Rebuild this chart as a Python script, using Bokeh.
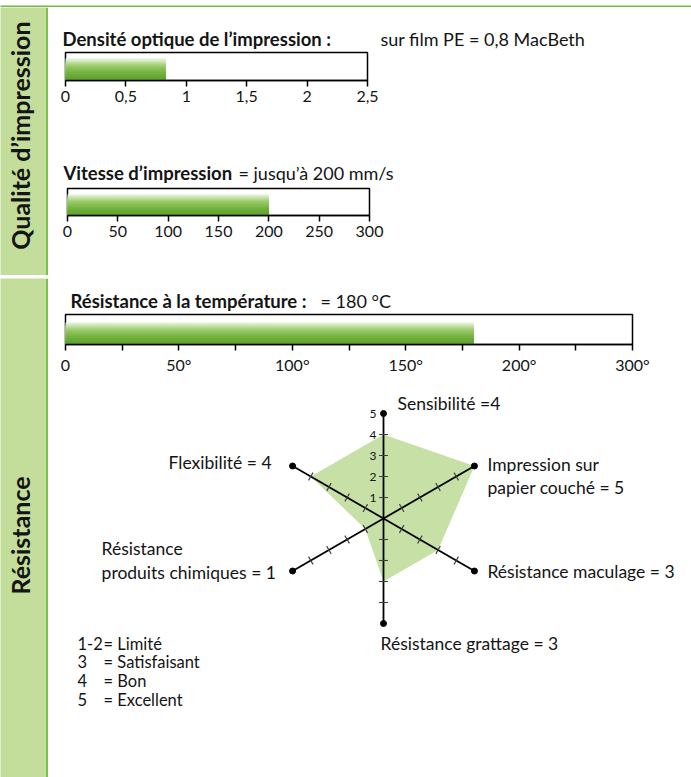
import math
from bokeh.plotting import figure
from bokeh.models import Range1d, FixedTicker
from bokeh.layouts import column, row
from bokeh.embed import file_html
from bokeh.resources import INLINE
from bokeh.core.properties import value

# ---------------- data ----------------
density_title = "Densité optique de l’impression :"
density_note = "sur film PE = 0,8 MacBeth"
density_value = 0.83
density_ticks = [0, 0.5, 1, 1.5, 2, 2.5]
density_tick_labels = ["0", "0,5", "1", "1,5", "2", "2,5"]

speed_title = "Vitesse d’impression"
speed_note = "= jusqu’à 200 mm/s"
speed_value = 200
speed_ticks = [0, 50, 100, 150, 200, 250, 300]
speed_tick_labels = ["0", "50", "100", "150", "200", "250", "300"]

temp_title = "Résistance à la température :"
temp_note = "= 180 °C"
temp_value = 180
temp_ticks = [0, 50, 100, 150, 200, 250]
temp_tick_labels = ["0", "50°", "100°", "150°", "200°", "300°"]
temp_minor_ticks = [25, 75, 125, 175, 225]

radar_labels = ["Sensibilité =4", "Impression sur\npapier couché = 5",
                "Résistance maculage = 3", "Résistance grattage = 3",
                "Résistance\nproduits chimiques = 1", "Flexibilité = 4"]
radar_values = [4, 5, 3, 3, 1, 4]
radar_angles = [90, 30, -30, -90, -150, 150]
radar_max = 5
radar_ticks = [1, 2, 3, 4]
radar_tick_labels = ["1", "2", "3", "4", "5"]

legend_keys = ["1-2", "3", "4", "5"]
legend_texts = ["= Limité", "= Satisfaisant", "= Bon", "= Excellent"]

section_names = ["Qualité d’impression", "Résistance"]

# ---------------- style ----------------
FONT = "Lato"
TXT = "#141414"
GREEN = "#79b744"
BAND = "#c3dd9b"
BAND_LINE = "#7cc04c"
POLY = "#c6e0a6"
W = 691
BW = 48
CW = W - BW
TITLE_SIZE = "18.5px"
NOTE_SIZE = "18px"
COMMON = dict(title=None, output_backend="svg", toolbar_location=None, frame_align=False)


def lerp_color(t):
    stops = [(0.0, (0x5a, 0x9e, 0x2b)), (0.35, (0x74, 0xb3, 0x40)),
             (0.65, (0x9c, 0xcb, 0x6c)), (0.85, (0xcc, 0xe5, 0xb2)),
             (1.0, (0xf4, 0xf9, 0xee))]
    for (t0, c0), (t1, c1) in zip(stops[:-1], stops[1:]):
        if t <= t1:
            f = (t - t0) / (t1 - t0)
            return "#%02x%02x%02x" % tuple(int(round(a + (b - a) * f)) for a, b in zip(c0, c1))
    return "#f4f9ee"


def blank(width, h, xr, yr, bg="white", border=None, mb_right=0):
    f = figure(width=width, height=h, x_axis_location=None, y_axis_location=None,
               min_border_left=0, min_border_right=mb_right, min_border_top=0, min_border_bottom=0,
               background_fill_color=bg, border_fill_color=border or bg, outline_line_color=None,
               x_range=xr, y_range=yr, **COMMON)
    f.grid.visible = False
    return f


def strip(h):
    return blank(W, h, Range1d(0, 1), Range1d(0, 1), bg=GREEN)


def band(h, text, yfrac):
    f = blank(BW, h, Range1d(0, 1), Range1d(0, 1), bg=BAND, border=BAND_LINE, mb_right=3)
    f.text(x=[0.43], y=[yfrac], text=[text], angle=math.pi / 2, text_align="center",
           text_baseline="middle", text_font=value(FONT), text_font_style="bold",
           text_font_size="25px", text_color=TXT)
    return f


def title_fig(h, mid, title, title_x, note, note_x):
    f = blank(CW, h, Range1d(0, CW), Range1d(h, 0))
    f.text(x=[title_x], y=[mid], text=[title], text_font=value(FONT), text_font_style="bold",
           text_font_size=TITLE_SIZE, text_color=TXT, text_baseline="middle")
    f.text(x=[note_x], y=[mid], text=[note], text_font=value(FONT),
           text_font_size=NOTE_SIZE, text_color=TXT, text_baseline="middle")
    return f


def bar_fig(h, fl, fw, ft, fh, xmax, val, ticks, labels, minor=None, bar_top=0.8):
    fr = CW - fl - fw
    fb = h - ft - fh
    f = figure(width=CW, height=h, y_axis_location=None,
               x_range=Range1d(0, xmax), y_range=Range1d(0, 1),
               min_border_left=fl, min_border_right=fr, min_border_top=ft, min_border_bottom=fb,
               background_fill_color="white", border_fill_color="white",
               outline_line_color="black", outline_line_width=1.5, **COMMON)
    f.grid.visible = False
    # vertical gradient: nested bars, tallest (lightest) first
    n = 22
    tops, cs = [], []
    for i in range(n, 0, -1):
        t = i / n
        tops.append(bar_top * t)
        cs.append(lerp_color(t - 0.5 / n))
    f.hbar(y=[t / 2 for t in tops], left=0, right=[val] * n, height=tops,
           fill_color=cs, line_color=None)
    ax = f.xaxis[0]
    ax.ticker = FixedTicker(ticks=ticks, minor_ticks=minor or [])
    ax.major_label_overrides = dict(zip(ticks, labels))
    ax.axis_line_color = "black"
    ax.axis_line_width = 1.5
    ax.major_tick_line_color = "black"
    ax.major_tick_line_width = 1.5
    ax.major_tick_in = 0
    ax.major_tick_out = 6
    ax.minor_tick_in = 0
    ax.minor_tick_out = 6
    ax.minor_tick_line_width = 1.5
    ax.minor_tick_line_color = "black" if minor else None
    ax.major_label_standoff = 4
    ax.major_label_text_font = FONT
    ax.major_label_text_font_size = "16px"
    ax.major_label_text_color = TXT
    return f


# ---------------- section 1 ----------------
t1 = title_fig(43, 31, density_title, 14, density_note, 332)
bar1 = bar_fig(90, 17, 302, 2, 28, density_ticks[-1], density_value, density_ticks,
               density_tick_labels)
t2 = title_fig(46, 32, speed_title, 15, speed_note, 190)
bar2 = bar_fig(89, 19, 302, 2, 27, speed_ticks[-1], speed_value, speed_ticks,
               speed_tick_labels)
band1 = band(268, section_names[0], 0.522)

# ---------------- section 2 ----------------
t3 = title_fig(34, 22, temp_title, 22, temp_note, 272)
temp = bar_fig(76, 17, 567, 2, 30, temp_ticks[-1], temp_value, temp_ticks,
               temp_tick_labels, minor=temp_minor_ticks, bar_top=0.75)
band2 = band(499, section_names[1], 0.485)

PPU = 21.0
RH = 389
cx, cy = 335, 130
radar = blank(CW, RH, Range1d(-cx / PPU, (CW - cx) / PPU), Range1d(-(RH - cy) / PPU, cy / PPU))

angs = [math.radians(a) for a in radar_angles]
px = [v * math.cos(a) for v, a in zip(radar_values, angs)]
py = [v * math.sin(a) for v, a in zip(radar_values, angs)]
radar.patch(x=px, y=py, fill_color=POLY, line_color=None)

ex = [radar_max * math.cos(a) for a in angs]
ey = [radar_max * math.sin(a) for a in angs]
radar.segment(x0=[0] * len(ex), y0=[0] * len(ey), x1=ex, y1=ey, line_color="black", line_width=1.8)

tx0, ty0, tx1, ty1 = [], [], [], []
half = 4.5 / PPU
for a in angs:
    for r in radar_ticks:
        bx, by = r * math.cos(a), r * math.sin(a)
        nx, ny = -math.sin(a), math.cos(a)
        tx0.append(bx - nx * half); ty0.append(by - ny * half)
        tx1.append(bx + nx * half); ty1.append(by + ny * half)
radar.segment(x0=tx0, y0=ty0, x1=tx1, y1=ty1, line_color="#3a3f44", line_width=1.1)
radar.scatter(x=ex, y=ey, size=6, color="black")

radar.text(x=[-7 / PPU] * len(radar_tick_labels), y=list(range(1, len(radar_tick_labels) + 1)),
           text=radar_tick_labels, text_font=value(FONT), text_font_size="12px",
           text_align="right", text_baseline="middle", text_color=TXT)

# category labels: (dx, [dy per line], align) in pixels from the axis end
label_offsets = [(14, [-10], "left"), (13, [-2, 21], "left"), (13, [0], "left"),
                 (-3, [20], "left"), (-191, [-23, 1], "left"), (-21, [-4], "right")]
for i, lab in enumerate(radar_labels):
    dx, dys, al = label_offsets[i]
    lines = lab.split("\n")
    radar.text(x=[ex[i] + dx / PPU] * len(lines), y=[ey[i] - d / PPU for d in dys], text=lines,
               text_font=value(FONT), text_font_size="17.5px", text_align=al,
               text_baseline="middle", text_color=TXT)

leg_y = [(cy - yy) / PPU for yy in (255, 273, 292, 311)]
radar.text(x=[(29 - cx) / PPU] * 4, y=leg_y, text=legend_keys, text_font=value(FONT),
           text_font_size="16.5px", text_align="left", text_baseline="middle", text_color=TXT)
radar.text(x=[(55 - cx) / PPU] * 4, y=leg_y, text=legend_texts, text_font=value(FONT),
           text_font_size="16.5px", text_align="left", text_baseline="middle", text_color=TXT)

layout = column(
    strip(7),
    row(band1, column(t1, bar1, t2, bar2)),
    strip(3),
    row(band2, column(t3, temp, radar)),
)

open("out.html", "w").write(file_html(layout, INLINE))
